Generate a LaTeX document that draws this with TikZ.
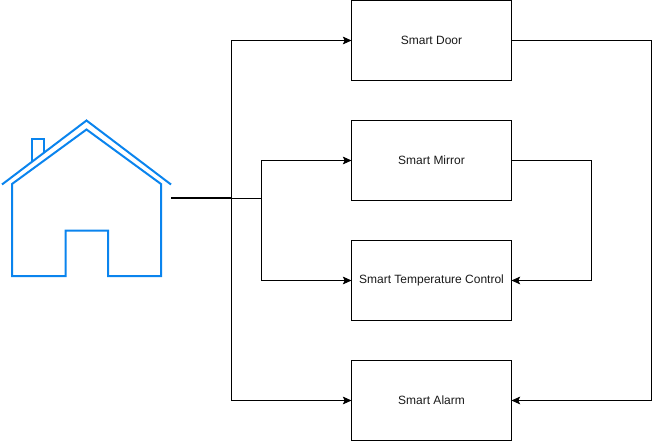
\documentclass[tikz,border=0pt]{standalone}
\usepackage{fontspec}
\setmainfont{Liberation Sans}
\usetikzlibrary{arrows.meta}
\definecolor{houseblue}{HTML}{0A84EE}
\tikzset{
  unit box/.style={draw=black,line width=0.75pt,minimum width=120pt,minimum height=60pt,inner sep=0pt,outer sep=0pt,font=\fontsize{9}{11}\selectfont,text=black!90},
  link/.style={draw=black,line width=0.75pt,-{Stealth[length=6.5pt,width=5.8pt,inset=1.4pt]}},
  trunk link/.style={draw=black,line width=1.15pt},
  house line/.style={draw=houseblue,line width=1.5pt,line join=miter}
}
\begin{document}
\begin{tikzpicture}[x=0.75pt,y=-0.75pt]
\useasboundingbox (0,0) rectangle (660,442);
% boxes
\node[unit box] (door) at (431.5,40.5) {Smart Door};
\node[unit box] (mirror) at (431.5,160.5) {Smart Mirror};
\node[unit box] (temp) at (431.5,280.5) {Smart Temperature Control};
\node[unit box] (alarm) at (431.5,400.5) {Smart Alarm};
% house
\node[minimum width=126.75pt,minimum height=117pt,inner sep=0pt,outer sep=0pt] (house) at (86.5,198) {};
\draw[house line] (2,184.5) -- (86.5,120.5) -- (171,184.5);
\draw[house line] (12,276) -- (12,184) -- (86.5,129.5) -- (161,184) -- (161,276) -- (108,276) -- (108,230.5) -- (65.5,230.5) -- (65.5,276) -- cycle;
\draw[house line] (31.5,161) -- (31.5,139) -- (44,139) -- (44,152);
% junctions
\coordinate (outer) at (231.5,198);
\coordinate (inner) at (261.5,198);
\coordinate (rightnear) at (591.5,198);
\coordinate (rightfar) at (651.5,198);
% connectors
\draw[link] (outer) |- (door.west);
\draw[link] (outer) |- (alarm.west);
\draw[link] (inner) |- (mirror.west);
\draw[link] (inner) |- (temp.west);
\draw[trunk link] (house.east) -- (outer);
\draw[link,-] (outer) -- (inner);
\draw[link] (mirror.east) -| (rightnear) |- (temp.east);
\draw[link] (door.east) -| (rightfar) |- (alarm.east);
\end{tikzpicture}
\end{document}
